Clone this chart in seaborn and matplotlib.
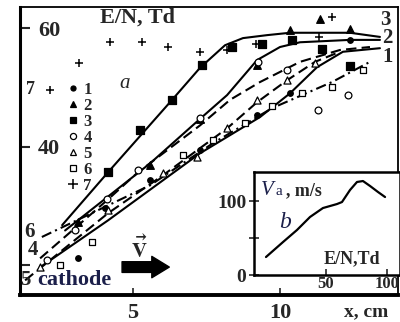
import matplotlib
matplotlib.use("Agg")
import matplotlib.pyplot as plt
from matplotlib.lines import Line2D
import seaborn as sns
import pandas as pd

# ---- fitted curves (E/N vs x), solid 1-3, dashed 4-6 ----
curve1_x = [1.84, 4.15, 7.28, 9.32, 10.34, 11.26, 12.14, 13.4]
curve1_y = [19.7, 27.6, 38.9, 45.0, 49.0, 53.4, 56.0, 56.6]
curve2_x = [2.69, 5.58, 7.28, 8.2, 9.22, 10.0, 10.68, 12.38, 13.4]
curve2_y = [25.9, 37.2, 44.7, 48.7, 54.6, 56.8, 57.6, 58.0, 58.0]
curve3_x = [2.59, 4.15, 6.33, 7.28, 8.13, 8.74, 9.56, 10.34, 12.38, 13.4]
curve3_y = [26.8, 35.7, 47.9, 53.3, 57.1, 58.3, 58.8, 59.2, 59.2, 58.5]
curve4_x = [1.84, 4.12, 5.17, 7.28, 8.3, 9.32, 10.68, 12.04, 13.06]
curve4_y = [21.2, 31.0, 35.7, 43.6, 47.9, 50.9, 54.3, 56.3, 56.8]
curve5_x = [1.33, 4.15, 6.02, 8.2, 9.22, 10.24, 11.19, 12.04]
curve5_y = [17.5, 28.8, 35.2, 43.1, 47.5, 51.2, 54.3, 56.0]
curve6_x = [1.9, 5.58, 7.72, 9.73, 11.77, 13.06]
curve6_y = [24.8, 33.5, 40.6, 46.5, 50.9, 54.3]

# ---- measured points, series 1..7 ----
s1_x = [3.13, 4.05, 5.58, 7.28, 9.22, 10.34, 12.38]
s1_y = [21.2, 29.6, 34.4, 39.4, 45.3, 49.0, 58.0]
s2_x = [3.13, 5.58, 7.28, 9.22, 10.34, 11.36, 12.38]
s2_y = [27.3, 36.9, 44.7, 53.8, 59.7, 61.5, 59.8]
s3_x = [4.15, 5.24, 6.33, 7.35, 8.37, 9.39, 10.41, 11.43, 12.38]
s3_y = [35.7, 42.8, 47.9, 53.8, 56.8, 57.3, 58.0, 56.5, 53.6]
s4_x = [2.07, 3.03, 4.12, 5.17, 7.28, 9.25, 10.24, 11.29, 12.31]
s4_y = [20.9, 25.9, 31.2, 36.1, 44.8, 54.3, 52.9, 46.2, 48.7]
s5_x = [1.84, 4.15, 6.02, 7.18, 8.2, 9.22, 10.24, 11.19]
s5_y = [19.7, 29.3, 35.5, 38.2, 43.1, 47.9, 51.2, 54.1]
s6_x = [2.52, 3.61, 6.7, 7.72, 8.81, 9.73, 10.75, 11.77, 12.82]
s6_y = [20.0, 23.9, 38.6, 41.1, 44.0, 46.8, 49.0, 50.1, 52.9]
s7_x = [2.18, 3.16, 4.22, 5.31, 6.19, 7.28, 8.2, 9.18, 11.33, 11.77]
s7_y = [49.5, 54.1, 57.6, 57.6, 56.8, 56.0, 56.3, 57.3, 58.5, 61.9]

# ---- inset b: drift velocity vs E/N ----
inset_en = [0.8, 14.8, 26.2, 36.9, 47.5, 59.0, 63.1, 69.7, 75.4, 80.3, 86.1, 92.6, 98.4]
inset_va = [24.3, 44.6, 60.8, 78.4, 90.5, 95.9, 98.6, 114.9, 125.7, 127.0, 120.3, 112.2, 105.4]

sns.set_style("ticks")
plt.rcParams['font.family'] = ['Liberation Serif', 'DejaVu Serif']
plt.rcParams['font.weight'] = 'bold'
plt.rcParams['mathtext.fontset'] = 'stix'

fig = plt.figure(figsize=(4, 3.22), dpi=100)
ax = fig.add_axes([20 / 400, 1 - 295 / 322, 378 / 400, 288 / 322])

curves = [
    (curve1_x, curve1_y, '-'), (curve2_x, curve2_y, '-'), (curve3_x, curve3_y, '-'),
    (curve4_x, curve4_y, (0, (5, 2.5))), (curve5_x, curve5_y, (0, (5, 2.5))),
    (curve6_x, curve6_y, (0, (5, 2, 1, 2))),
]
for cx, cy, ls in curves:
    sns.lineplot(x=cx, y=cy, ax=ax, sort=False, estimator=None, color='black',
                 linewidth=1.5, linestyle=ls, zorder=2)

series = [
    (s1_x, s1_y, 'o', 'black', 16),
    (s2_x, s2_y, '^', 'black', 30),
    (s3_x, s3_y, 's', 'black', 26),
    (s4_x, s4_y, 'o', 'white', 24),
    (s5_x, s5_y, '^', 'white', 26),
    (s6_x, s6_y, 's', 'white', 24),
]
handles = []
for sx, sy, mk, fc, sz in series:
    sns.scatterplot(x=sx, y=sy, ax=ax, marker=mk, color=fc, edgecolor='black',
                    linewidth=0.9, s=sz, zorder=3)
    handles.append(Line2D([], [], ls='none', marker=mk, markerfacecolor=fc,
                          markeredgecolor='black', markeredgewidth=0.9,
                          markersize=(sz ** 0.5) * 0.9))
sns.scatterplot(x=s7_x, y=s7_y, ax=ax, marker='+', color='black', linewidth=1.1,
                s=40, zorder=3)
handles.append(Line2D([], [], ls='none', marker='+', color='black',
                      markeredgewidth=1.1, markersize=6.5))

ax.legend(handles, ['1', '2', '3', '4', '5', '6', '7'], loc='upper left',
          bbox_to_anchor=(0.095, 0.77), frameon=False, fontsize=12,
          labelspacing=0.0, handletextpad=0.15, handlelength=1.0, borderpad=0)

ax.set_xlim(1.156, 14.014)
ax.set_ylim(15.03, 63.54)
ax.set_xticks([5, 10])
ax.set_xticklabels(['5', '10'], fontsize=16, fontweight='bold')
ax.set_yticks([20, 40, 60])
ax.set_yticklabels(['', '40', '60'], fontsize=16, fontweight='bold')
ax.tick_params(axis='y', direction='in', length=7, width=1.5, pad=-29)
ax.tick_params(axis='x', direction='in', length=5, width=1.2, pad=6)
ax.set_xlabel('')
ax.set_ylabel('')
for side, lw in [('left', 2.2), ('bottom', 2.8), ('top', 1.3), ('right', 1.3)]:
    ax.spines[side].set_linewidth(lw)
    ax.spines[side].set_color('black')

T = ax.transAxes
ax.text(0.31, 0.962, 'E/N, Td', transform=T, ha='center', va='center', fontsize=16)
ax.text(0.278, 0.736, 'a', transform=T, ha='center', va='center', fontsize=15,
        style='italic', fontweight='normal')
ax.text(0.045, 0.052, 'cathode', transform=T, ha='left', va='center', fontsize=16,
        color='#1b1f4a')
ax.text(0.014, 0.052, '5', transform=T, ha='center', va='center', fontsize=15)
ax.text(0.026, 0.219, '6', transform=T, ha='center', va='center', fontsize=15)
ax.text(0.035, 0.156, '4', transform=T, ha='center', va='center', fontsize=15)
ax.text(0.028, 0.712, '7', transform=T, ha='center', va='center', fontsize=13)
ax.text(0.966, 0.955, '3', transform=T, ha='center', va='center', fontsize=15)
ax.text(0.971, 0.892, '2', transform=T, ha='center', va='center', fontsize=15)
ax.text(0.973, 0.826, '1', transform=T, ha='center', va='center', fontsize=15)
ax.text(0.317, 0.16, r'$\vec{\mathbf{V}}$', transform=T, ha='center', va='center',
        fontsize=15)
ax.text(0.915, -0.059, 'x, cm', transform=T, ha='center', va='center', fontsize=14,
        clip_on=False)
ax.annotate('', xy=(0.395, 0.097), xytext=(0.27, 0.097), xycoords=T, textcoords=T,
            arrowprops=dict(arrowstyle='simple,head_width=1.1,head_length=0.9,tail_width=0.55',
                            color='black', mutation_scale=14, shrinkA=0, shrinkB=0))

# ---- inset ----
axin = fig.add_axes([254 / 400, 1 - 275 / 322, 146 / 400, 103 / 322])
sns.lineplot(x=inset_en, y=inset_va, ax=axin, sort=False, estimator=None,
             color='black', linewidth=1.6)
axin.set_xlim(-9.02, 110.66)
axin.set_ylim(0, 139.2)
axin.set_xticks([50, 100])
axin.set_xticklabels(['50', '100'], fontsize=12, fontweight='bold')
axin.set_yticks([0, 50, 100])
axin.set_yticklabels(['0', '', '100'], fontsize=14, fontweight='bold')
axin.tick_params(axis='x', direction='in', length=4, width=1.2, pad=1)
axin.tick_params(axis='y', direction='inout', length=7, width=1.2, pad=2)
axin.set_xlabel('')
axin.set_ylabel('')
for side in ['left', 'bottom', 'top', 'right']:
    axin.spines[side].set_linewidth(1.8)
    axin.spines[side].set_color('black')
Ti = axin.transAxes
axin.text(0.045, 0.82, 'V', transform=Ti, ha='left', va='center', fontsize=15,
          style='italic', fontweight='normal', color='#1b1f4a')
axin.text(0.15, 0.81, 'a', transform=Ti, ha='left', va='center', fontsize=11,
          fontweight='normal', color='#1b1f4a')
axin.text(0.22, 0.82, ', m/s', transform=Ti, ha='left', va='center', fontsize=13)
axin.text(0.21, 0.51, 'b', transform=Ti, ha='center', va='center', fontsize=17,
          style='italic', fontweight='normal', color='#1b1f4a')
axin.text(0.67, 0.16, 'E/N,Td', transform=Ti, ha='center', va='center', fontsize=13)

fig.savefig('out.png', dpi=100)
